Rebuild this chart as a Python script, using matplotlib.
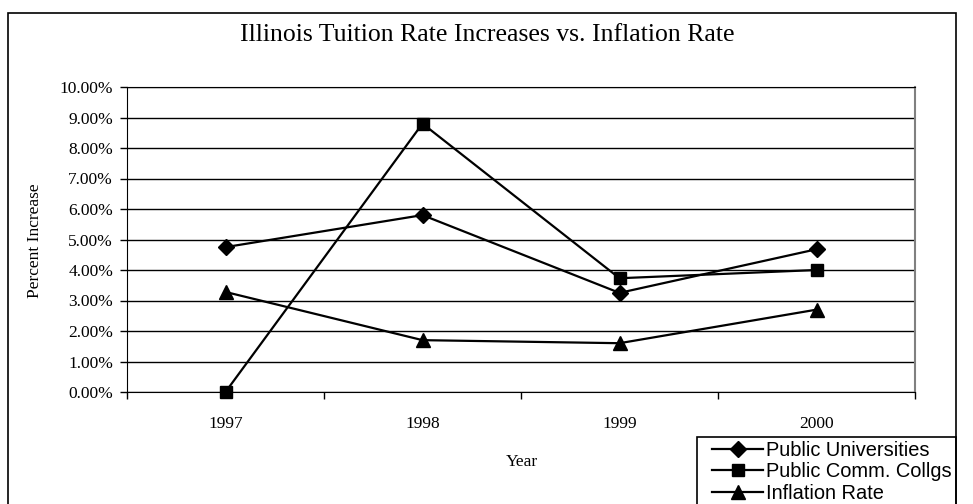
import matplotlib.pyplot as plt
from matplotlib.patches import Rectangle
from matplotlib.ticker import FuncFormatter, MultipleLocator

years = ['1997', '1998', '1999', '2000']
public_univ = [4.75, 5.80, 3.25, 4.68]
comm_collegs = [0.00, 8.80, 3.73, 4.00]
inflation = [3.28, 1.70, 1.60, 2.70]

W, H = 973, 504
fig = plt.figure(figsize=(W / 100, H / 100), dpi=100)
serif = 'Liberation Serif'
sans = 'Liberation Sans'

# chart frame (runs off the bottom of the image)
fig.patches.append(Rectangle((8 / W, -0.2), 948 / W, 1.2 - 13 / H,
                             transform=fig.transFigure, fill=False,
                             edgecolor='black', linewidth=1.2, clip_on=False))

ax = fig.add_axes([127 / W, 1 - 392 / H, 788 / W, 305 / H])
x = range(len(years))
ax.plot(x, public_univ, color='black', lw=1.6, marker='D', ms=8.5,
        label='Public Universities')
ax.plot(x, comm_collegs, color='black', lw=1.6, marker='s', ms=9,
        label='Public Comm. Collgs', clip_on=False)
ax.plot(x, inflation, color='black', lw=1.6, marker='^', ms=10,
        label='Inflation Rate')

ax.set_xlim(-0.5, 3.5)
ax.set_ylim(0, 10)
ax.yaxis.set_major_locator(MultipleLocator(1))
ax.yaxis.set_major_formatter(FuncFormatter(lambda v, p: f'{v:.2f}%'))
ax.grid(axis='y', color='black', lw=1)
ax.set_axisbelow(True)

# category labels sit between tick marks
ax.set_xticks([-0.5, 0.5, 1.5, 2.5, 3.5])
ax.set_xticklabels([])
ax.set_xticks(list(x), minor=True)
ax.set_xticklabels(years, minor=True, fontfamily=serif, fontsize=12.5)
ax.tick_params(axis='x', which='minor', length=0, pad=17)
ax.tick_params(axis='x', which='major', direction='out', length=5, width=1)
ax.tick_params(axis='y', direction='out', length=5, width=1, pad=5)
for lab in ax.get_yticklabels():
    lab.set_fontfamily(serif)
    lab.set_fontsize(12.5)

ax.spines['left'].set_color('black')
ax.spines['bottom'].set_color('black')
ax.spines['top'].set_color('black')
ax.spines['right'].set_color('#808080')
ax.spines['right'].set_linewidth(1.5)

fig.text(487 / W, 1 - 35 / H, 'Illinois Tuition Rate Increases vs. Inflation Rate',
         ha='center', va='center', fontfamily=serif, fontsize=18.5)
fig.text(522 / W, 1 - 462 / H, 'Year', ha='center', va='center',
         fontfamily=serif, fontsize=12.5)
fig.text(35 / W, 1 - 241 / H, 'Percent Increase', ha='center', va='center',
         rotation=90, fontfamily=serif, fontsize=12.5)

# legend box reaches the right edge of the frame
fig.patches.append(Rectangle((697 / W, -0.2), 259 / W, 1.2 - 437 / H,
                             transform=fig.transFigure, fill=False,
                             edgecolor='black', linewidth=1.2, clip_on=False))
leg = fig.legend(loc='upper left', bbox_to_anchor=(712 / W, 1 - 441 / H),
                 prop={'family': sans, 'size': 14.4}, frameon=False,
                 handlelength=2.55, handletextpad=0.15, labelspacing=0.12,
                 borderpad=0, borderaxespad=0)

fig.savefig('out.png', dpi=100)
